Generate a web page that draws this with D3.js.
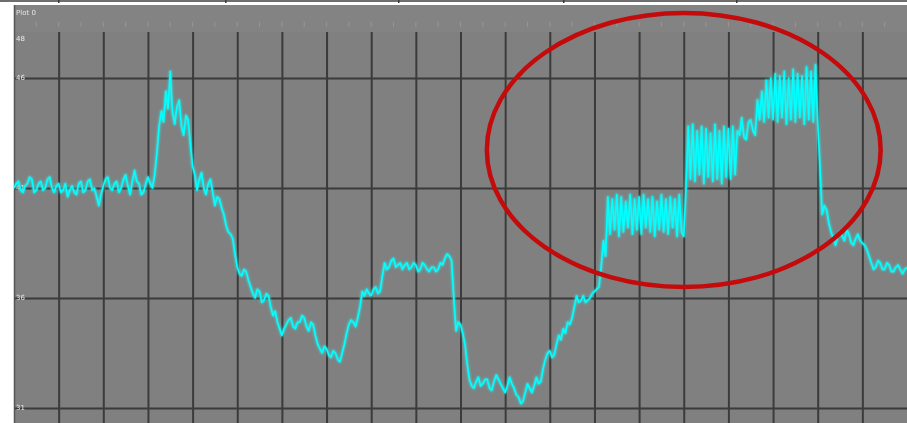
<!DOCTYPE html>
<html>
<head>
<meta charset="utf-8">
<script src="https://cdn.jsdelivr.net/npm/d3@7"></script>
<style>
  html, body { margin: 0; padding: 0; background: #ffffff; }
  svg { display: block; }
</style>
</head>
<body>
<svg id="chart" width="907" height="423"></svg>
<script>
// Trace samples, 20 per grid division, in measurement units
const trace = [
  41.0, 41.2, 41.3, 40.9, 40.8, 41.1, 41.2, 41.5, 41.4, 40.8, 40.9, 41.2, 41.3, 40.9, 41.0, 41.4, 41.5, 41.0, 40.8, 41.1,
  41.2, 40.8, 40.9, 41.2, 40.6, 40.9, 41.1, 40.8, 40.7, 41.2, 41.3, 40.8, 40.9, 41.3, 41.4, 40.9, 41.0, 40.6, 40.2, 40.7,
  41.1, 41.4, 41.5, 41.0, 40.9, 41.2, 41.3, 40.8, 41.0, 41.4, 41.6, 41.1, 40.7, 41.3, 41.8, 41.3, 41.2, 40.7, 40.8, 41.2,
  41.5, 41.2, 41.0, 41.6, 42.6, 43.8, 44.5, 44.0, 45.4, 44.6, 46.3, 44.4, 43.9, 44.7, 45.0, 43.8, 43.4, 44.3, 44.1, 43.0,
  42.0, 41.6, 40.9, 41.4, 41.7, 41.0, 40.7, 41.2, 41.4, 40.8, 40.2, 40.6, 40.5, 40.1, 39.8, 39.3, 39.0, 38.9, 38.7, 38.0,
  37.4, 37.1, 37.0, 37.3, 37.2, 36.8, 36.5, 36.2, 36.0, 36.4, 36.3, 35.8, 35.9, 36.2, 36.1, 35.6, 35.2, 35.4, 34.9, 34.6,
  34.3, 34.6, 34.8, 35.0, 35.1, 34.7, 34.6, 34.9, 34.9, 35.2, 35.1, 34.7, 34.5, 34.9, 34.8, 34.3, 33.9, 33.7, 33.5, 33.8,
  33.7, 33.4, 33.3, 33.6, 33.5, 33.2, 33.1, 33.5, 33.9, 34.4, 34.8, 35.0, 34.9, 34.7, 35.1, 35.6, 36.3, 36.1, 36.4, 36.2,
  36.1, 36.4, 36.5, 36.2, 36.3, 37.0, 37.6, 37.3, 37.4, 37.7, 37.8, 37.4, 37.5, 37.6, 37.3, 37.5, 37.6, 37.3, 37.4, 37.6,
  37.5, 37.2, 37.3, 37.6, 37.5, 37.3, 37.2, 37.4, 37.4, 37.2, 37.3, 37.6, 37.5, 37.8, 38.0, 37.9, 37.7, 36.0, 34.5, 34.9,
  34.8, 34.4, 33.9, 33.0, 32.3, 32.0, 31.9, 32.2, 32.4, 32.0, 32.1, 32.3, 32.3, 31.9, 31.8, 32.2, 32.5, 32.3, 32.1, 31.9,
  31.7, 32.0, 32.4, 32.1, 31.9, 31.6, 31.5, 31.2, 31.3, 31.7, 32.1, 31.9, 31.7, 32.0, 32.4, 32.1, 32.2, 32.8, 33.2, 33.5,
  33.6, 33.3, 33.4, 33.9, 34.3, 34.1, 34.6, 34.4, 34.9, 34.8, 35.1, 35.6, 36.1, 35.8, 35.9, 36.1, 35.8, 35.9, 36.0, 36.2,
  36.3, 36.4, 36.5, 37.4, 38.6, 37.9, 40.6, 38.9, 40.5, 39.1, 40.7, 38.8, 40.6, 39.0, 40.4, 39.2, 40.7, 38.9, 40.5, 39.1,
  40.6, 38.9, 40.7, 39.2, 40.5, 39.0, 40.6, 38.8, 40.4, 39.1, 40.7, 39.0, 40.5, 38.9, 40.6, 39.2, 40.5, 38.8, 40.7, 39.0,
  38.8, 41.0, 43.8, 41.4, 43.9, 41.3, 43.6, 41.6, 43.8, 41.2, 43.7, 41.5, 43.5, 41.3, 43.9, 41.4, 43.6, 41.2, 43.8, 41.5,
  43.7, 41.4, 43.8, 41.6, 43.6, 43.4, 44.2, 43.3, 43.2, 44.0, 44.1, 43.6, 43.4, 45.0, 44.1, 45.4, 44.0, 45.9, 44.2, 46.0,
  44.1, 46.2, 44.0, 46.1, 44.2, 46.3, 43.9, 46.0, 44.1, 46.4, 44.0, 46.2, 44.2, 46.1, 43.9, 46.5, 44.1, 46.3, 44.0, 46.6,
  44.0, 42.0, 39.8, 40.2, 40.0, 39.4, 39.0, 38.7, 38.4, 38.8, 39.0, 38.8, 38.6, 39.1, 38.9, 38.5, 38.4, 38.7, 38.9, 38.6,
  38.5, 38.4, 38.2, 37.9, 37.6, 37.3, 37.4, 37.7, 37.6, 37.3, 37.3, 37.6, 37.5, 37.2, 37.2, 37.4, 37.5, 37.3, 37.1, 37.3,
  37.4
];

// Axis ticks and their labels
const samplesPerDivision = 20;
const yGridValues = [31, 36, 41, 46];
const yTopLabel = "48";
const plotTitle = "Plot 0";

// Highlight ellipse, expressed in data coordinates (sample index, units)
const highlight = { cx: 300, cy: 42.73, rx: 88.2, ry: 6.23 };

const svg = d3.select("#chart");
const W = 907, H = 423;
const plot = { left: 14, top: 32, right: 907, bottom: 423 };
const nSamples = trace.length - 1;

const x = d3.scaleLinear().domain([0, nSamples]).range([plot.left, plot.right]);
const y = d3.scaleLinear().domain([31, 46]).range([408, 78]);
const xGridValues = d3.range(samplesPerDivision, nSamples, samplesPerDivision);

const defs = svg.append("defs");
defs.append("filter").attr("id", "soft")
  .append("feGaussianBlur").attr("stdDeviation", 0.6);
defs.append("filter").attr("id", "softer")
  .append("feGaussianBlur").attr("stdDeviation", 0.9);
defs.append("clipPath").attr("id", "plotClip")
  .append("rect")
  .attr("x", plot.left).attr("y", plot.top)
  .attr("width", plot.right - plot.left).attr("height", plot.bottom - plot.top);

// Window strip along the top edge
svg.append("rect").attr("x", 0).attr("y", 0).attr("width", W).attr("height", 2)
  .attr("fill", "#6e6e6e");
[58, 225, 398, 563, 736].forEach(px => {
  svg.append("rect").attr("x", px).attr("y", 0).attr("width", 1.5).attr("height", 3)
    .attr("fill", "#3a3a3a");
});

// Header band with the plot title
svg.append("rect")
  .attr("x", plot.left).attr("y", 5)
  .attr("width", W - plot.left).attr("height", plot.top - 5)
  .attr("fill", "#838383");
svg.append("text")
  .attr("x", plot.left + 2).attr("y", 15)
  .attr("font-family", "DejaVu Sans, sans-serif")
  .attr("font-size", 7)
  .attr("fill", "#e4e4e4")
  .attr("filter", "url(#soft)")
  .text(plotTitle);

// Faint scale marks in the header
const header = svg.append("g").attr("filter", "url(#soft)");
header.selectAll("line.hdr")
  .data(d3.range(samplesPerDivision / 2, nSamples, samplesPerDivision / 2))
  .join("line")
  .attr("x1", d => x(d)).attr("x2", d => x(d))
  .attr("y1", 22).attr("y2", 27)
  .attr("stroke", "#969696").attr("stroke-width", 1);

// Plot background
svg.append("rect")
  .attr("x", plot.left).attr("y", plot.top)
  .attr("width", plot.right - plot.left).attr("height", plot.bottom - plot.top)
  .attr("fill", "#808080");

// Grid
const grid = svg.append("g").attr("clip-path", "url(#plotClip)");
const gridG = grid.append("g").attr("filter", "url(#soft)");

gridG.append("g")
  .attr("transform", `translate(0,${plot.bottom})`)
  .call(d3.axisBottom(x).tickValues(xGridValues).tickSize(0).tickFormat(""))
  .call(g => g.select(".domain").remove())
  .call(g => g.selectAll(".tick line")
    .attr("y2", -(plot.bottom - plot.top))
    .attr("stroke", "#3a3a3a").attr("stroke-width", 2));

gridG.append("g")
  .attr("transform", `translate(${plot.left},0)`)
  .call(d3.axisLeft(y).tickValues(yGridValues).tickSize(-(plot.right - plot.left)).tickFormat(""))
  .call(g => g.select(".domain").remove())
  .call(g => g.selectAll(".tick line")
    .attr("stroke", "#3a3a3a").attr("stroke-width", 2));

// Plot frame: top and left edges
svg.append("line")
  .attr("x1", plot.left).attr("x2", plot.right)
  .attr("y1", plot.top).attr("y2", plot.top)
  .attr("stroke", "#4a4a4a").attr("stroke-width", 2).attr("filter", "url(#soft)");
svg.append("line")
  .attr("x1", plot.left + 0.5).attr("x2", plot.left + 0.5)
  .attr("y1", 5).attr("y2", plot.bottom)
  .attr("stroke", "#555555").attr("stroke-width", 1.5);

// Value labels on the left inside the plot
const labels = svg.append("g")
  .attr("font-family", "DejaVu Sans, sans-serif")
  .attr("font-size", 7)
  .attr("fill", "#ececec")
  .attr("filter", "url(#soft)");
labels.selectAll("text.yl")
  .data(yGridValues)
  .join("text")
  .attr("x", plot.left + 2)
  .attr("y", d => y(d) + 2)
  .text(d => d);
labels.append("text")
  .attr("x", plot.left + 2)
  .attr("y", plot.top + 9)
  .text(yTopLabel);

// Trace
const line = d3.line()
  .x((d, i) => x(i))
  .y(d => y(d));

const traceG = svg.append("g").attr("clip-path", "url(#plotClip)");
traceG.append("path")
  .datum(trace)
  .attr("d", line)
  .attr("fill", "none")
  .attr("stroke", "#2ee8e8")
  .attr("stroke-width", 2.8)
  .attr("stroke-linejoin", "round")
  .attr("opacity", 0.75)
  .attr("filter", "url(#softer)");
traceG.append("path")
  .datum(trace)
  .attr("d", line)
  .attr("fill", "none")
  .attr("stroke", "#00ffff")
  .attr("stroke-width", 1.6)
  .attr("stroke-linejoin", "round");

// Highlight ellipse
svg.append("ellipse")
  .attr("cx", x(highlight.cx))
  .attr("cy", y(highlight.cy))
  .attr("rx", x(highlight.rx) - x(0))
  .attr("ry", y(0) - y(highlight.ry))
  .attr("fill", "none")
  .attr("stroke", "#c40a0a")
  .attr("stroke-width", 4.5);
</script>
</body>
</html>
